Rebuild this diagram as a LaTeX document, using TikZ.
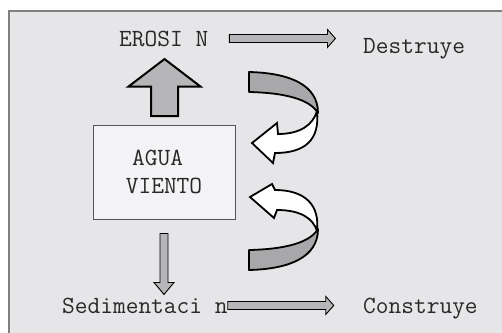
\documentclass[tikz,border=0pt]{standalone}
\usepackage{fontspec}

\definecolor{framefill}{RGB}{230,230,232}
\definecolor{frameline}{RGB}{128,128,128}
\definecolor{boxfill}{RGB}{243,243,245}
\definecolor{boxline}{RGB}{85,85,85}
\definecolor{textgray}{RGB}{40,40,40}
\definecolor{arrowgray}{RGB}{182,182,184}
\definecolor{curlgray}{RGB}{168,168,170}

\tikzset{
  labeltext/.style={font=\ttfamily\fontsize{24.7}{27.6}\selectfont, text=textgray, inner sep=0pt},
  mediobox/.style={labeltext, draw=boxline, fill=boxfill, line width=0.9pt,
    minimum width=142pt, minimum height=94pt, align=center},
  blockarrow/.style={draw=black, fill=arrowgray, line width=0.9pt, line join=miter},
  bigarrow/.style={blockarrow, line width=2pt},
  curlback/.style={draw=black, fill=curlgray, line width=1.8pt, line join=round},
  curlfront/.style={draw=black, fill=white, line width=1.8pt, line join=miter}
}

\begin{document}
\begin{tikzpicture}[x=1pt,y=-1pt]
\useasboundingbox (0,0) rectangle (502,332);
\clip (0,0) rectangle (502,332);
\fill[white] (0,0) rectangle (502,332);
% marco
\draw[frameline, fill=framefill, line width=2pt] (9,11) rectangle (520,350);

\node[labeltext, anchor=base west] (erosion) at (119,46) {EROSI N};
\node[labeltext, anchor=base west] (destruye) at (363,53) {Destruye};
\node[labeltext, anchor=base west] (sedimento) at (62,313) {Sedimentaci n};
\node[labeltext, anchor=base west] (construye) at (363,313) {Construye};
\node[mediobox] (medio) at (164,172) {AGUA\hphantom{A}\\VIENTO};

% flechas rectas
\draw[blockarrow] ([xshift=21pt]erosion.east) ++(0,-4) -- ++(98,0) -- ++(0,-5)
  -- ++(8,9) -- ++(-8,9) -- ++(0,-5) -- ++(-98,0) -- cycle;
\draw[blockarrow] (sedimento.east) ++(0,-4) -- ++(98,0) -- ++(0,-5)
  -- ++(8,9) -- ++(-8,9) -- ++(0,-5) -- ++(-98,0) -- cycle;
\draw[bigarrow] (medio.north) ++(-13,-8.5) -- ++(0,-29.5) -- ++(-22.5,0)
  -- ++(36,-27.5) -- ++(36,27.5) -- ++(-22.5,0) -- ++(0,29.5) -- cycle;
\draw[blockarrow] (medio.south) ++(-4,14) -- ++(0,49) -- ++(-6,0)
  -- ++(10,12) -- ++(10,-12) -- ++(-6,0) -- ++(0,-49) -- cycle;

% flechas curvas
\draw[curlback] (249,72) .. controls (290,73) and (318,85) .. (318,113)
  .. controls (312,103) and (295,93) .. (249,92) -- cycle;
\draw[curlfront] (317,111) .. controls (320,140) and (305,153) .. (275,153)
  -- (273,163) -- (252,143) -- (277,123) -- (278,134)
  .. controls (300,134) and (313,125) .. (317,111) -- cycle;
\draw[curlback] (249,270) .. controls (290,269) and (318,257) .. (318,229)
  .. controls (312,239) and (295,249) .. (249,250) -- cycle;
\draw[curlfront] (317,231) .. controls (320,205) and (305,190) .. (275,190)
  -- (272,184) -- (250,197) -- (274,218) -- (277,210)
  .. controls (300,210) and (313,218) .. (317,231) -- cycle;
\end{tikzpicture}
\end{document}
